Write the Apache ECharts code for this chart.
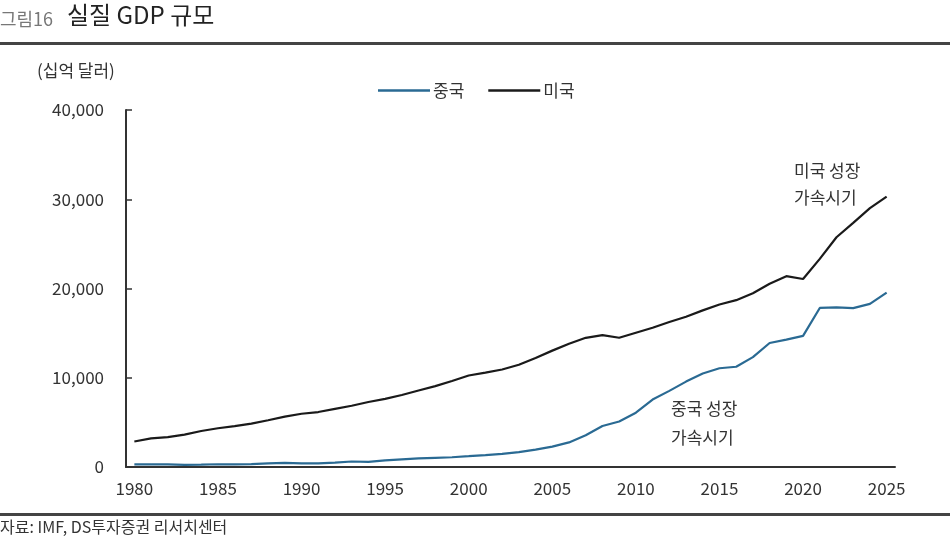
<!DOCTYPE html>
<html>
<head>
<meta charset="utf-8">
<script src="https://cdn.jsdelivr.net/npm/echarts@6/dist/echarts.min.js"></script>
<style>
html,body{margin:0;padding:0;background:#fff;}
#c{width:950px;height:544px;}
</style>
</head>
<body>
<div id="c"></div>
<script>
const years = [];
for (let y = 1980; y <= 2025; y++) years.push(String(y));
const china = [303,294,285,231,262,310,301,327,410,457,396,413,494,617,564,734,863,962,1029,1094,1211,1339,1471,1660,1955,2286,2752,3550,4594,5101,6087,7552,8532,9570,10476,11062,11233,12310,13895,14280,14688,17820,17882,17795,18273,19534];
const usa = [2857,3207,3344,3634,4037,4339,4580,4855,5236,5642,5963,6158,6520,6859,7287,7640,8073,8578,9063,9631,10251,10582,10929,11457,12217,13039,13816,14474,14770,14478,15049,15600,16254,16843,17551,18206,18695,19477,20533,21381,21060,23315,25744,27361,29000,30300];
const seriesNames = ['중국','미국'];

const chart = echarts.init(document.getElementById('c'));
const font = '"Noto Sans CJK KR", "Noto Sans", sans-serif';
chart.setOption({
  backgroundColor:'#fff',
  animation:false,
  textStyle:{fontFamily:font},
  grid:{left:126,right:55,top:110,bottom:77,containLabel:false},
  legend:{
    top:77,left:373,
    icon:'rect',itemWidth:52,itemHeight:2.5,itemGap:24,
    textStyle:{fontSize:17,color:'#333',fontFamily:font,padding:[0,0,0,-2]},
    data:seriesNames
  },
  xAxis:{
    type:'category',data:years,boundaryGap:true,
    axisLine:{lineStyle:{color:'#333',width:2}},
    axisTick:{inside:true,length:6,interval:4,lineStyle:{color:'#333',width:1.5}},
    axisLabel:{interval:4,fontSize:17,color:'#333',margin:13,fontFamily:font},
    splitLine:{show:false}
  },
  yAxis:{
    type:'value',min:0,max:40000,interval:10000,
    axisLine:{show:true,lineStyle:{color:'#333',width:2}},
    axisTick:{show:true,inside:true,length:6,lineStyle:{color:'#333',width:1.5}},
    axisLabel:{fontSize:17,color:'#333',margin:22,fontFamily:font,
      formatter:v=>v.toLocaleString('en-US')},
    splitLine:{show:false}
  },
  series:[
    {name:seriesNames[0],type:'line',data:china,symbol:'none',
     lineStyle:{color:'#2a6a93',width:2.2},itemStyle:{color:'#2a6a93'}},
    {name:seriesNames[1],type:'line',data:usa,symbol:'none',
     lineStyle:{color:'#1a1a1a',width:2.2},itemStyle:{color:'#1a1a1a'}}
  ],
  graphic:[
    {type:'text',left:0,top:10,style:{text:'그림16',fontSize:18,fill:'#777',fontFamily:font}},
    {type:'text',left:67,top:3,style:{text:'실질 GDP 규모',fontSize:24,fill:'#222',fontFamily:font}},
    {type:'rect',shape:{x:0,y:42,width:950,height:3},style:{fill:'#444'}},
    {type:'text',left:37,top:62,style:{text:'(십억 달러)',fontSize:17,fill:'#333',fontFamily:font}},
    {type:'text',left:794,top:157,style:{text:'미국 성장\n가속시기',fontSize:17,lineHeight:27,fill:'#333',fontFamily:font}},
    {type:'text',left:671,top:394,style:{text:'중국 성장\n가속시기',fontSize:17,lineHeight:29,fill:'#333',fontFamily:font}},
    {type:'rect',shape:{x:0,y:513,width:950,height:3},style:{fill:'#444'}},
    {type:'text',left:0,top:519,style:{text:'자료: IMF, DS투자증권 리서치센터',fontSize:16,fill:'#333',fontFamily:font}}
  ]
});
</script>
</body>
</html>
